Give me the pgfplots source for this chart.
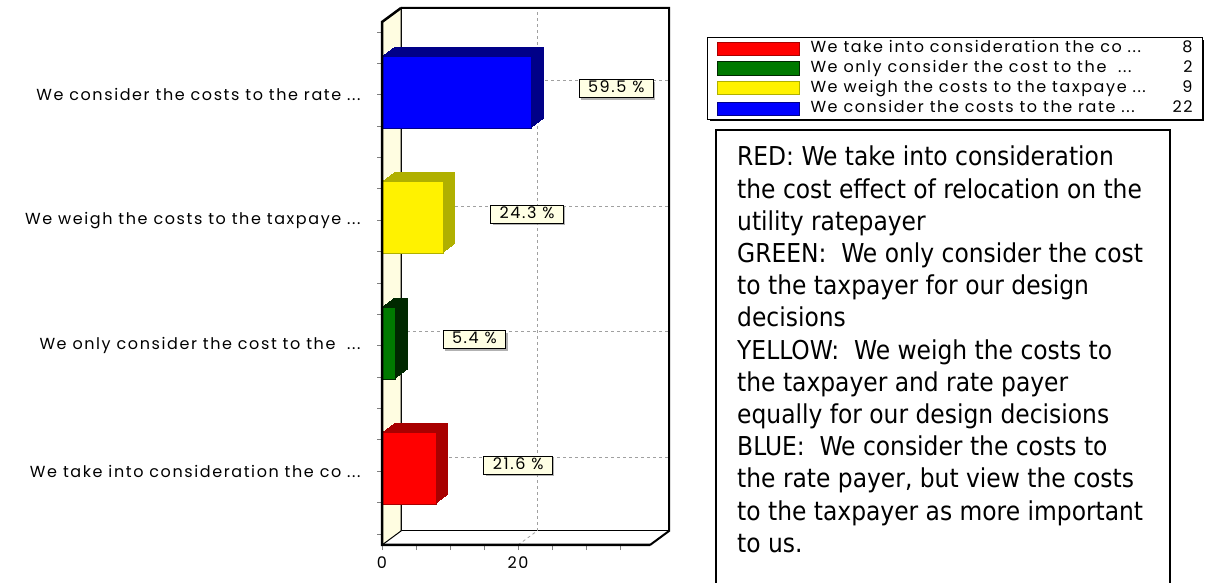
\documentclass[border=0pt]{standalone}
\usepackage{fontspec}
\usepackage{pgfplots}
\pgfplotsset{compat=1.18}
\usetikzlibrary{shadows}
\setmainfont{DejaVu Sans}
\newfontfamily\chartfamily[LetterSpace=10]{Poppins}
\newfontfamily\boxfamily{DejaVu Sans Condensed}
\newcommand{\chartfont}{\chartfamily\fontsize{16}{19}\selectfont}
\newcommand{\boxfont}{\boxfamily\fontsize{26}{32.2}\selectfont}
\newcommand{\dd}{...}
\definecolor{cream}{HTML}{FFFDE1}
\definecolor{lblfill}{HTML}{FFFFE4}
\definecolor{bluedk}{HTML}{000088}
\definecolor{yeldk}{HTML}{B0B000}
\definecolor{grn}{HTML}{007A00}
\definecolor{grndk}{HTML}{002800}
\definecolor{reddk}{HTML}{A80000}
\definecolor{gridgray}{HTML}{A0A0A0}
% one depth copy of a bar: colour, coordinate, xshift, yshift
\newcommand{\sh}[4]{\addplot[xbar, bar shift=0pt, bar width=72pt, fill=#1, draw=none, xshift=#3pt, yshift=#4pt, forget plot] coordinates {#2};}
\newcommand{\depthbar}[2]{%
  \sh{#1}{#2}{1}{3.75}\sh{#1}{#2}{2}{4.5}\sh{#1}{#2}{3}{5.25}\sh{#1}{#2}{4}{6}%
  \sh{#1}{#2}{5}{6.75}\sh{#1}{#2}{6}{7.5}\sh{#1}{#2}{7}{8.25}\sh{#1}{#2}{8}{9}%
  \sh{#1}{#2}{9}{9.75}\sh{#1}{#2}{10}{10.5}\sh{#1}{#2}{11}{11.25}\sh{#1}{#2}{12}{12}}
\begin{document}
\begin{tikzpicture}
\useasboundingbox (0,0) rectangle (1212pt,583pt);
% legend shadow
\fill[black] (710pt,462pt) rectangle (1204pt,543pt);
\begin{axis}[
  at={(382pt,38pt)}, anchor=south west,
  scale only axis, width=268pt, height=523pt,
  xmin=0, xmax=39.4, ymin=0.412, ymax=4.58,
  clip=false,
  axis line style={draw=none},
  xtick={0,20}, minor xtick={5,10,15,25,30,35},
  ytick={1,2,3,4},
  yticklabels={{We take into consideration the co \dd},{We only consider the cost to the\ \ \dd},{We weigh the costs to the taxpaye \dd},{We consider the costs to the rate \dd}},
  minor ytick={0.5,0.75,1.25,1.5,1.75,2.25,2.5,2.75,3.25,3.5,3.75,4.25,4.5},
  xtick pos=left, ytick pos=left,
  tick align=outside,
  major tick length=5pt, minor tick length=5pt,
  tick style={color=gray, line width=0.8pt},
  xticklabel style={font=\chartfont, yshift=-3pt},
  yticklabel style={font=\chartfont, xshift=-13pt},
  /pgf/number format/assume math mode=true,
  legend image code/.code={\draw[line width=1pt,#1] (0pt,-6.5pt) rectangle (82pt,6.5pt);},
  legend style={at={(1.2127,0.9713)}, anchor=north west, draw=black, line width=1pt,
    fill=white, font=\chartfont, inner xsep=9pt, inner ysep=3pt, row sep=4pt,
    nodes={inner sep=1pt, text height=11pt, text depth=3pt}},
  legend cell align=left,
]
% back wall
\filldraw[fill=white, draw=black, line width=1pt] ([shift={(19pt,14pt)}]rel axis cs:0,0) rectangle ([shift={(19pt,14pt)}]rel axis cs:1,1);
% left wall
\filldraw[fill=cream, draw=black, line width=1pt] (rel axis cs:0,0) -- (rel axis cs:0,1) -- ([shift={(19pt,14pt)}]rel axis cs:0,1) -- ([shift={(19pt,14pt)}]rel axis cs:0,0) -- cycle;
% grid on back wall
\draw[gridgray, dashed, line width=0.8pt] ([shift={(19pt,14pt)}]axis cs:20,0.412) -- ([shift={(19pt,14pt)}]axis cs:20,4.58);
\draw[gridgray, dashed, line width=0.8pt] (axis cs:20,0.412) -- ([shift={(19pt,14pt)}]axis cs:20,0.412);
\draw[gridgray, dashed, line width=0.8pt] ([shift={(19pt,14pt)}]axis cs:0,1) -- ([shift={(19pt,14pt)}]axis cs:39.4,1);
\draw[gridgray, dashed, line width=0.8pt] ([shift={(19pt,14pt)}]axis cs:0,2) -- ([shift={(19pt,14pt)}]axis cs:39.4,2);
\draw[gridgray, dashed, line width=0.8pt] ([shift={(19pt,14pt)}]axis cs:0,3) -- ([shift={(19pt,14pt)}]axis cs:39.4,3);
\draw[gridgray, dashed, line width=0.8pt] ([shift={(19pt,14pt)}]axis cs:0,4) -- ([shift={(19pt,14pt)}]axis cs:39.4,4);
% back wall thick edges
\draw[line width=2pt] ([shift={(19pt,14pt)}]rel axis cs:0,1) -- ([shift={(19pt,14pt)}]rel axis cs:1,1) -- ([shift={(19pt,14pt)}]rel axis cs:1,0) -- (rel axis cs:1,0);

% RED bar (8)
\depthbar{reddk}{(8,1)}
\addplot[xbar, bar shift=0pt, bar width=72pt, fill=red, draw=reddk, yshift=3pt, forget plot] coordinates {(8,1)};
% GREEN bar (2)
\depthbar{grndk}{(2,2)}
\addplot[xbar, bar shift=0pt, bar width=72pt, fill=grn, draw=grndk, yshift=3pt, forget plot] coordinates {(2,2)};
% YELLOW bar (9)
\depthbar{yeldk}{(9,3)}
\addplot[xbar, bar shift=0pt, bar width=72pt, fill=yellow, draw=yeldk, yshift=3pt, forget plot] coordinates {(9,3)};
% BLUE bar (22)
\depthbar{bluedk}{(22,4)}
\addplot[xbar, bar shift=0pt, bar width=72pt, fill=blue, draw=bluedk, yshift=3pt, forget plot] coordinates {(22,4)};

% value labels
\addplot[draw=none, forget plot, nodes near coords, point meta=explicit symbolic,
  nodes near coords style={anchor=west, xshift=47pt, yshift=6pt, draw=black, line width=0.8pt,
    fill=lblfill, font=\chartfont, inner xsep=9pt, inner ysep=3pt, text height=10pt, text depth=2pt,
    drop shadow={shadow xshift=2pt, shadow yshift=-2pt, fill=gray, opacity=0.6}}]
  coordinates {(8,1) [21.6 \%] (2,2) [5.4 \%] (9,3) [24.3 \%] (22,4) [59.5 \%]};

% front edges
\draw[line width=2.5pt] ([shift={(19pt,14pt)}]rel axis cs:0,1) -- (rel axis cs:0,1) -- (rel axis cs:0,0) -- (rel axis cs:1,0);

% legend
\addlegendimage{fill=red, draw=reddk}
\addlegendentry{\makebox[392pt][l]{\hspace{10pt}We take into consideration the co \dd\hfill 8}}
\addlegendimage{fill=grn, draw=grndk}
\addlegendentry{\makebox[392pt][l]{\hspace{10pt}We only consider the cost to the\ \ \dd\hfill 2}}
\addlegendimage{fill=yellow, draw=yeldk}
\addlegendentry{\makebox[392pt][l]{\hspace{10pt}We weigh the costs to the taxpaye \dd\hfill 9}}
\addlegendimage{fill=blue, draw=bluedk}
\addlegendentry{\makebox[392pt][l]{\hspace{10pt}We consider the costs to the rate \dd\hfill 22}}
\end{axis}
% text box
\draw[line width=1.5pt] (716pt,-20pt) -- (716pt,453pt) -- (1170pt,453pt) -- (1170pt,-20pt);
\node[anchor=north west, align=left, font=\boxfont, inner sep=0pt] at (737pt,437pt) {RED: We take into consideration\\
the cost effect of relocation on the\\
utility ratepayer\\
GREEN:\ \ We only consider the cost\\
to the taxpayer for our design\\
decisions\\
YELLOW:\ \ We weigh the costs to\\
the taxpayer and rate payer\\
equally for our design decisions\\
BLUE:\ \ We consider the costs to\\
the rate payer, but view the costs\\
to the taxpayer as more important\\
to us.};
\end{tikzpicture}
\end{document}
